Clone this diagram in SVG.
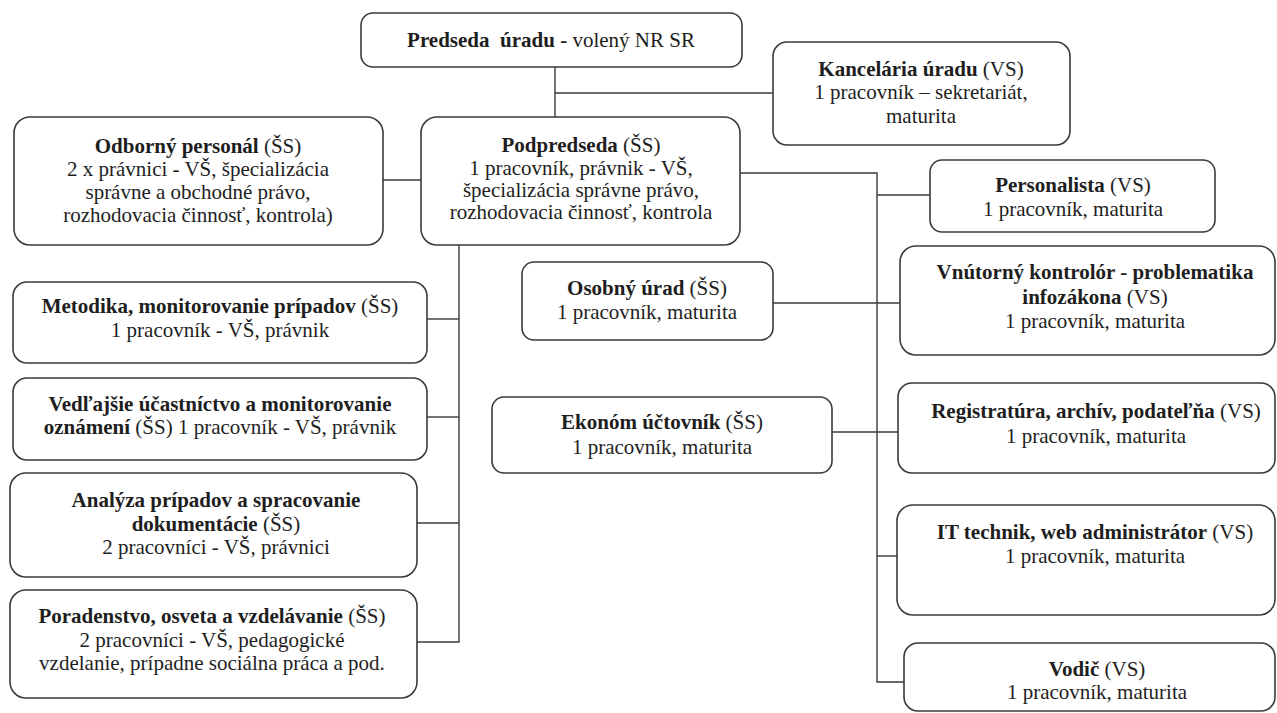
<svg xmlns="http://www.w3.org/2000/svg" width="1277" height="713" viewBox="0 0 1277 713">
<style>
.box{fill:#fff;stroke:#3a3a3a;stroke-width:1.6}
.conn{fill:none;stroke:#3a3a3a;stroke-width:1.4}
text{font-family:"Liberation Serif","Times New Roman",serif;font-size:21px;fill:#1e1e1e;text-anchor:middle}
.b{font-weight:bold}
</style>
<rect width="1277" height="713" fill="#fff"/>
<g id="connectors" class="conn">
<path d="M555 67V117"/>
<path d="M555 93H773"/>
<path d="M383 180H421"/>
<path d="M740 173H877V682H904"/>
<path d="M877 195H930"/>
<path d="M773 303H900"/>
<path d="M832 432H898"/>
<path d="M877 556H897"/>
<path d="M459 245V642H417"/>
<path d="M427 319H459"/>
<path d="M427 417H459"/>
<path d="M417 523H459"/>
</g>
<g id="predseda">
<rect class="box" x="361" y="13" width="381" height="54" rx="12"/>
<text x="551" y="47" xml:space="preserve"><tspan class="b">Predseda  úradu -</tspan> volený NR SR</text>
</g>
<g id="kancelaria">
<rect class="box" x="773" y="42" width="297" height="103" rx="14"/>
<text x="921" y="76"><tspan class="b">Kancelária úradu</tspan> (VS)</text>
<text x="921" y="99">1 pracovník – sekretariát,</text>
<text x="921" y="123">maturita</text>
</g>
<g id="odborny">
<rect class="box" x="14" y="117" width="369" height="128" rx="16"/>
<text x="198" y="153"><tspan class="b">Odborný personál</tspan> (ŠS)</text>
<text x="198" y="176">2 x právnici - VŠ, špecializácia</text>
<text x="198" y="199">správne a obchodné právo,</text>
<text x="198" y="222">rozhodovacia činnosť, kontrola)</text>
</g>
<g id="podpredseda">
<rect class="box" x="421" y="117" width="319" height="128" rx="16"/>
<text x="581" y="152"><tspan class="b">Podpredseda</tspan> (ŠS)</text>
<text x="581" y="175">1 pracovník, právnik - VŠ,</text>
<text x="581" y="197">špecializácia správne právo,</text>
<text x="581" y="219">rozhodovacia činnosť, kontrola</text>
</g>
<g id="personalista">
<rect class="box" x="930" y="160" width="285" height="72" rx="12"/>
<text x="1073" y="192"><tspan class="b">Personalista</tspan> (VS)</text>
<text x="1073" y="216">1 pracovník, maturita</text>
</g>
<g id="osobny">
<rect class="box" x="522" y="262" width="251" height="78" rx="12"/>
<text x="647" y="295"><tspan class="b">Osobný úrad</tspan> (ŠS)</text>
<text x="647" y="319">1 pracovník, maturita</text>
</g>
<g id="vnutorny">
<rect class="box" x="900" y="246" width="375" height="109" rx="16"/>
<text x="1095" y="279" class="b">Vnútorný kontrolór - problematika</text>
<text x="1095" y="304"><tspan class="b">infozákona</tspan> (VS)</text>
<text x="1095" y="328">1 pracovník, maturita</text>
</g>
<g id="ekonom">
<rect class="box" x="492" y="397" width="340" height="76" rx="12"/>
<text x="662" y="429"><tspan class="b">Ekonóm účtovník</tspan> (ŠS)</text>
<text x="662" y="454">1 pracovník, maturita</text>
</g>
<g id="registratura">
<rect class="box" x="898" y="383" width="377" height="90" rx="14"/>
<text x="1096" y="418"><tspan class="b">Registratúra, archív, podateľňa</tspan> (VS)</text>
<text x="1096" y="443">1 pracovník, maturita</text>
</g>
<g id="it">
<rect class="box" x="897" y="505" width="378" height="110" rx="16"/>
<text x="1095" y="539"><tspan class="b">IT technik, web administrátor</tspan> (VS)</text>
<text x="1095" y="563">1 pracovník, maturita</text>
</g>
<g id="vodic">
<rect class="box" x="904" y="643" width="371" height="68" rx="14"/>
<text x="1097" y="676"><tspan class="b">Vodič</tspan> (VS)</text>
<text x="1097" y="699">1 pracovník, maturita</text>
</g>
<g id="metodika">
<rect class="box" x="13" y="282" width="414" height="81" rx="14"/>
<text x="220" y="313"><tspan class="b">Metodika, monitorovanie prípadov</tspan> (ŠS)</text>
<text x="220" y="337">1 pracovník - VŠ, právnik</text>
</g>
<g id="vedlajsie">
<rect class="box" x="13" y="378" width="414" height="82" rx="14"/>
<text x="220" y="411" class="b">Vedľajšie účastníctvo a monitorovanie</text>
<text x="220" y="434"><tspan class="b">oznámení</tspan> (ŠS) 1 pracovník - VŠ, právnik</text>
</g>
<g id="analyza">
<rect class="box" x="10" y="473" width="407" height="104" rx="16"/>
<text x="216" y="507" class="b">Analýza prípadov a spracovanie</text>
<text x="216" y="531"><tspan class="b">dokumentácie</tspan> (ŠS)</text>
<text x="216" y="554">2 pracovníci - VŠ, právnici</text>
</g>
<g id="poradenstvo">
<rect class="box" x="10" y="590" width="407" height="108" rx="16"/>
<text x="212" y="623"><tspan class="b">Poradenstvo, osveta a vzdelávanie</tspan> (ŠS)</text>
<text x="212" y="647">2 pracovníci - VŠ, pedagogické</text>
<text x="212" y="670">vzdelanie, prípadne sociálna práca a pod.</text>
</g>
</svg>
